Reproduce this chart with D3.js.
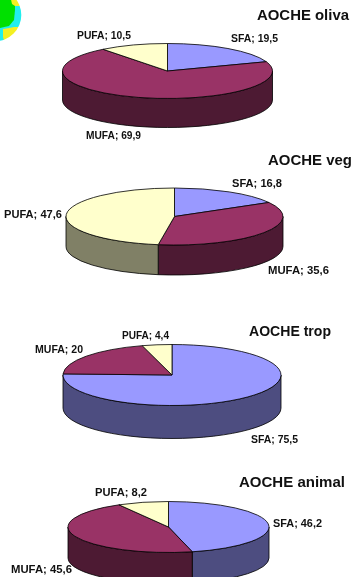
<!DOCTYPE html>
<html><head><meta charset="utf-8">
<script src="https://cdn.jsdelivr.net/npm/d3@7"></script>
<style>html,body{margin:0;padding:0;background:#fff;overflow:hidden}
svg{display:block;filter:blur(0.35px)}text{font-family:"Liberation Sans",Arial,sans-serif;font-weight:bold;fill:#111}</style>
</head><body><svg id="c" width="352" height="577"></svg>
<script>
const categories = ["SFA","MUFA","PUFA"];
const titles = ["AOCHE oliva","AOCHE veg","AOCHE trop","AOCHE animal"];
const olivaValues = [19.5,69.9,10.5];
const vegValues = [16.8,35.6,47.6];
const tropValues = [75.5,20,4.4];
const animalValues = [46.2,45.6,8.2];
const seriesValues = [olivaValues,vegValues,tropValues,animalValues];

// layout only: [x, baseline, width]
const layouts = [
 {cx:167.5,cy:71,rx:105,ry:27.5,d:29,title:[257,19.5,92],labels:[[231,42,47],[86,139,55],[77,39,54]]},
 {cx:174.5,cy:216.5,rx:108.5,ry:28.5,d:30,title:[268,165,84],labels:[[232,187,50],[268,274,61],[4,218,58]]},
 {cx:172,cy:375,rx:109,ry:30.5,d:33,title:[249,336,82],labels:[[251,443,47],[35,353,48],[122,339,47]]},
 {cx:168.5,cy:527,rx:100.5,ry:25.5,d:31,title:[239,487,106],labels:[[273,527,49],[11,573,61],[95,496,52]]}
];
const topColor = d3.scaleOrdinal(categories,["#9999ff","#993366","#ffffcc"]);
const sideColor = d3.scaleOrdinal(categories,["#4d4d80","#4d1a33","#808066"]);
const svg = d3.select("#c");

// decorative globe fragment in the top-left corner
const defs = svg.append("defs");
defs.append("clipPath").attr("id","globe").append("circle").attr("cx",-5).attr("cy",15).attr("r",26.3);
defs.append("filter").attr("id","soft").append("feGaussianBlur").attr("stdDeviation",0.7);
const globe = svg.append("g").attr("clip-path","url(#globe)").append("g").attr("filter","url(#soft)");
globe.append("rect").attr("x",-40).attr("y",-20).attr("width",70).attr("height",70).attr("fill","#22eeee");
globe.append("path").attr("d","M-5,-5H15L15,10L14,20L9,26L0,28H-5Z").attr("fill","#00e000");
globe.append("path").attr("d","M10,-5H22V6H15L12,4Z").attr("fill","#f4f020");
globe.append("path").attr("d","M3,29L9,28L14,27L24,27V45H5L3,37Z").attr("fill","#f4f020");
globe.append("path").attr("d","M-5,28H3V45H-5Z").attr("fill","#22eeee");

const pie = d3.pie().sort(null).value(d=>d.value).startAngle(0).endAngle(2*Math.PI);

function wallPath(a0,a1,L){
  const pt = a => [L.rx*Math.sin(a), -L.ry*Math.cos(a)];
  const [x0,y0]=pt(a0), [x1,y1]=pt(a1);
  return `M${x0},${y0}A${L.rx},${L.ry} 0 0 1 ${x1},${y1}L${x1},${y1+L.d}A${L.rx},${L.ry} 0 0 0 ${x0},${y0+L.d}Z`;
}

seriesValues.forEach((vals,i)=>{
  const L = layouts[i];
  const rows = categories.map((c,k)=>({cat:c,value:vals[k]}));
  const arcs = pie(rows);
  const g = svg.append("g").attr("transform",`translate(${L.cx},${L.cy})`);
  arcs.forEach(a=>{
    const s = Math.max(a.startAngle,Math.PI/2), e = Math.min(a.endAngle,3*Math.PI/2);
    if(e>s) g.append("path").attr("d",wallPath(s,e,L))
      .attr("fill",sideColor(a.data.cat)).attr("stroke","#000").attr("stroke-width",0.8).attr("stroke-linejoin","round");
  });
  const arcGen = d3.arc().innerRadius(0).outerRadius(L.rx);
  g.append("g").attr("transform",`scale(1,${L.ry/L.rx})`)
   .selectAll("path").data(arcs).join("path")
   .attr("d",arcGen).attr("fill",d=>topColor(d.data.cat))
   .attr("stroke","#000").attr("stroke-width",0.8).attr("vector-effect","non-scaling-stroke");
  svg.append("text").attr("x",L.title[0]).attr("y",L.title[1]).attr("font-size",14.6)
    .attr("textLength",L.title[2]).attr("lengthAdjust","spacingAndGlyphs").text(titles[i]);
  rows.forEach((r,k)=>{
    svg.append("text").attr("x",L.labels[k][0]).attr("y",L.labels[k][1]).attr("font-size",10.2)
      .attr("textLength",L.labels[k][2]).attr("lengthAdjust","spacingAndGlyphs")
      .text(`${r.cat}; ${String(r.value).replace(".",",")}`);
  });
});
</script></body></html>
